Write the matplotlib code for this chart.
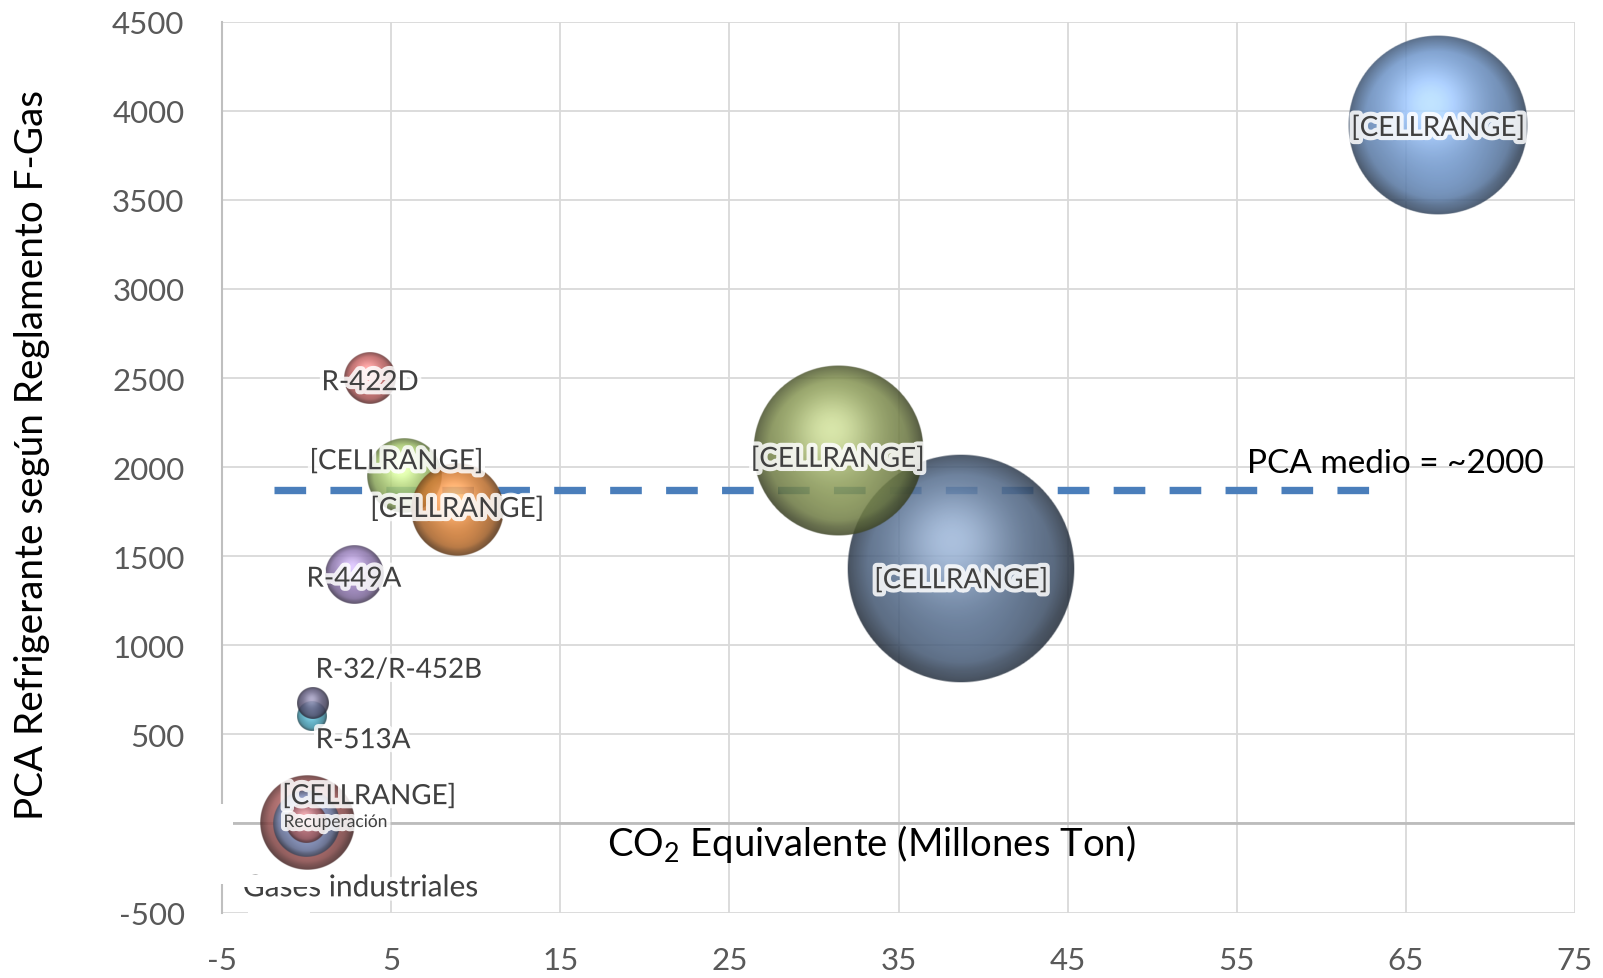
import numpy as np
import matplotlib
matplotlib.use("Agg")
import matplotlib.pyplot as plt
import matplotlib.patheffects as pe
from matplotlib.colors import to_rgb
from matplotlib.patches import Rectangle

plt.rcParams['font.family'] = ['Lato', 'DejaVu Sans']
plt.rcParams['mathtext.fontset'] = 'custom'
plt.rcParams['mathtext.rm'] = 'Lato'
plt.rcParams['axes.unicode_minus'] = False

# refrigerantes: CO2 equivalente (Mt), PCA y tamaño relativo de burbuja
gases = ["R-404A", "R-134a", "R-410A", "R-407F", "R-407C", "R-422D", "R-449A",
         "R-513A", "R-32/R-452B", "Gases industriales", "Otros", "Recuperación"]
co2_mt = [66.9, 38.7, 31.4, 5.8, 8.9, 3.75, 2.8, 0.3, 0.35, 0.0, 0.0, 0.0]
pca = [3922, 1430, 2088, 1950, 1760, 2500, 1397, 600, 675, 0, 0, 0]
burbuja = [62.3, 100, 55.6, 10.8, 16.3, 5.2, 6.5, 1.7, 1.9, 17.0, 8.6, 3.1]
etiquetas = ["[CELLRANGE]", "[CELLRANGE]", "[CELLRANGE]", "[CELLRANGE]", "[CELLRANGE]",
             "R-422D", "R-449A", "R-513A", "R-32/R-452B", "Gases industriales",
             "[CELLRANGE]", "Recuperación"]
colores = ["#7099d0", "#566f91", "#8b9b55", "#a9cb6e", "#d77d32", "#c86464",
           "#967db9", "#4baac3", "#5f5a7d", "#a85a5a", "#86a0d0", "#b8686c"]
# desplazamiento de cada etiqueta respecto al centro (puntos) y tamaño de letra
desp_etiqueta = [(0, -2), (0, -8), (0, -5), (-6, 11), (0, 1), (0, -3), (0, -3),
                 (37, -17), (62, 24), (39, -46), (45, 20), (21, 1)]
tam_etiqueta = [20, 20, 20, 20, 20, 20, 20, 20, 20, 21.5, 20, 12.5]

pca_medio_y = 1872
pca_medio_x = (-1.93, 62.9)

xticks = np.arange(-5, 76, 10)
yticks = np.arange(-500, 4501, 500)
yticklabels = ["" if v == 0 else str(v) for v in yticks]

fig = plt.figure(figsize=(16.03, 9.79), dpi=100)
ax = fig.add_axes([222 / 1603, 1 - 913.5 / 979, (1575 - 222) / 1603, (913.5 - 22.7) / 979])
ax.set_xlim(-5, 75)
ax.set_ylim(-500, 4500)
ax.set_autoscale_on(False)

ax.set_xticks(xticks)
ax.set_yticks(yticks)
ax.set_yticklabels(yticklabels)
ax.tick_params(length=0, labelsize=22.5, labelcolor="#595959")
ax.tick_params(axis="x", pad=24)
ax.tick_params(axis="y", pad=27)
ax.grid(True, color="#d9d9d9", lw=1.3, zorder=0)
ax.set_axisbelow(True)
for s in ["top", "right", "bottom"]:
    ax.spines[s].set_visible(False)
ax.spines["left"].set_color("#bfbfbf")
ax.spines["left"].set_linewidth(1.5)
ax.axhline(0, color="#bcbcbc", lw=2, zorder=1)


def esfera(color, n=300, alpha=0.86):
    u = np.linspace(-1, 1, n)
    X, Y = np.meshgrid(u, -u)
    d2 = X ** 2 + Y ** 2
    d = np.sqrt(d2)
    Z = np.sqrt(np.clip(1 - d2, 0, 1))
    L = np.array([-0.15, 0.45, 0.88])
    L /= np.linalg.norm(L)
    dif = np.clip(X * L[0] + Y * L[1] + Z * L[2], 0, 1)
    H = L + np.array([0, 0, 1.0])
    H /= np.linalg.norm(H)
    spec = np.clip(X * H[0] + Y * H[1] + Z * H[2], 0, 1) ** 9
    L2 = np.array([0.1, -0.75, 0.65])
    L2 /= np.linalg.norm(L2)
    dif2 = np.clip(X * L2[0] + Y * L2[1] + Z * L2[2], 0, 1) ** 4
    borde = np.clip((d - 0.82) / 0.18, 0, 1)
    shade = (0.55 + 0.45 * dif + 0.2 * dif2) * (1 - 0.3 * borde)
    base = np.array(to_rgb(color))
    rgb = base * shade[..., None] + 0.28 * spec[..., None]
    rgb = np.clip(rgb, 0, 1)
    a = np.clip((1 - d) * n / 2, 0, 1) * alpha
    return np.dstack([rgb, a])


fig.canvas.draw()
r_max = 114 * fig.dpi / 100
for i in range(len(gases)):
    r = r_max * np.sqrt(burbuja[i] / 100)
    cx, cy = ax.transData.transform((co2_mt[i], pca[i]))
    (x0, y0), (x1, y1) = ax.transData.inverted().transform([(cx - r, cy - r), (cx + r, cy + r)])
    ax.imshow(esfera(colores[i]), extent=(x0, x1, y0, y1), origin="upper",
              interpolation="bilinear", aspect="auto", zorder=4 + i * 0.01)

halo = [pe.withStroke(linewidth=6, foreground="white", alpha=0.85)]
for i in range(len(gases)):
    ax.annotate(etiquetas[i], (co2_mt[i], pca[i]), xytext=desp_etiqueta[i],
                textcoords="offset points", ha="center", va="center",
                fontsize=tam_etiqueta[i], color="#404040", zorder=6,
                path_effects=halo)

# línea de PCA medio
ax.plot(pca_medio_x, [pca_medio_y, pca_medio_y], color="#4a7ebb", lw=5.3,
        ls=(0, (4.3, 3.3)), zorder=3)
ax.text(64.4, 2024, "PCA medio = ~2000", ha="center", va="center", fontsize=24,
        color="black", zorder=6)

ax.text(33.4, -110, "CO$_\\mathrm{2}$ Equivalente (Millones Ton)", ha="center",
        va="center", fontsize=27.5, color="black", zorder=6)
fig.text(32 / 1603, 1 - 455 / 979, "PCA Refrigerante según Reglamento F-Gas",
         rotation=90, ha="center", va="center", fontsize=27.8, color="black")

# huecos blancos junto a la etiqueta inferior
for (xa, ya, w, h, z) in [(-5.6, -340, 1.25, 449, 3.5), (-3.46, -520, 3.66, 40, 3.5),
                          (-3.9, -356, 5.05, 67, 6.5)]:
    ax.add_patch(Rectangle((xa, ya), w, h, facecolor="white", edgecolor="none",
                           zorder=z, clip_on=False))

fig.savefig("out.png", dpi=100)
